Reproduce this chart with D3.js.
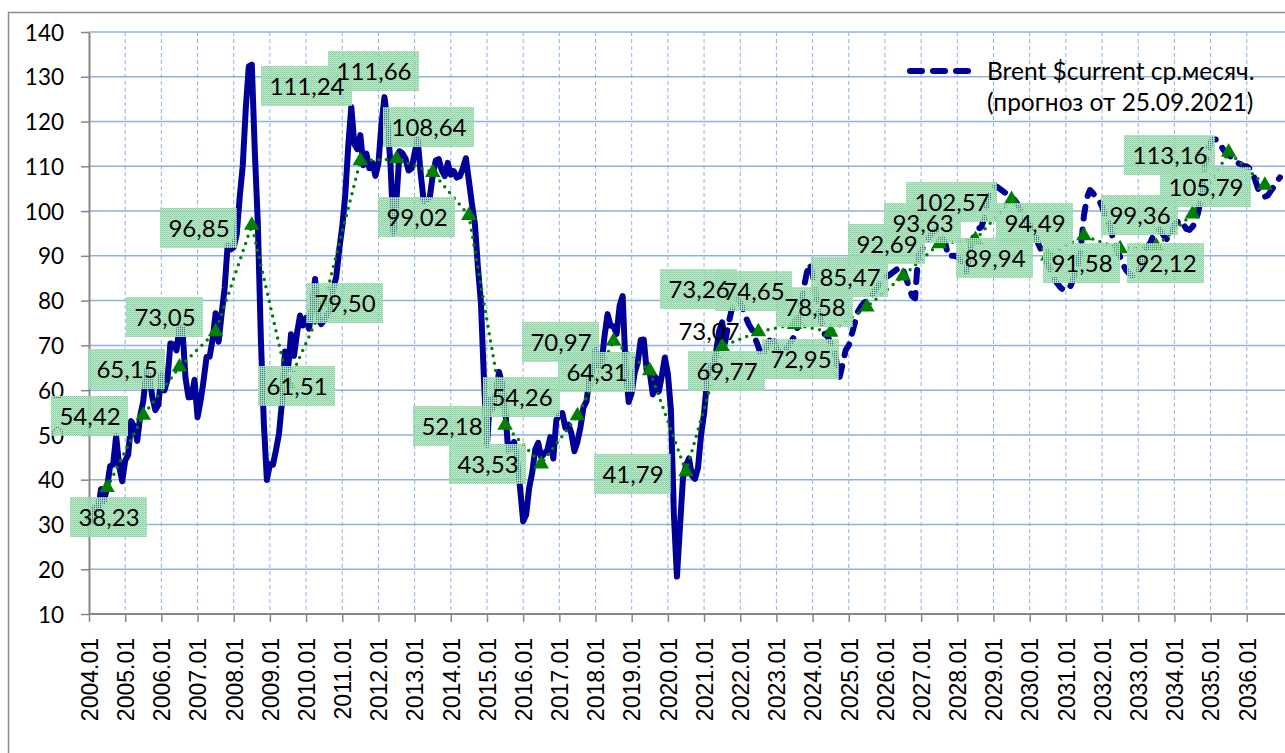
<!DOCTYPE html>
<html>
<head>
<meta charset="utf-8">
<script src="https://cdn.jsdelivr.net/npm/d3@7"></script>
<style>
body { margin: 0; background: #fff; }
svg { display: block; }
</style>
</head>
<body>
<svg id="chart" width="1285" height="753"></svg>
<script>
// Brent monthly average, $/bbl, fact 2004.01 - 2021.08
var brentFact = [
  31.18, 30.87, 33.80, 33.36, 37.92, 35.19, 38.37, 43.03, 43.38, 49.77, 43.05, 39.65,
  44.28, 45.56, 53.08, 51.86, 48.67, 54.31, 57.58, 64.09, 62.98, 58.52, 55.53, 56.75,
  63.57, 59.92, 62.25, 70.44, 70.19, 68.86, 73.90, 73.61, 62.77, 58.38, 58.48, 62.31,
  53.96, 57.58, 62.14, 67.40, 67.48, 71.32, 77.20, 70.80, 77.13, 82.86, 92.53, 91.45,
  91.92, 94.82, 103.28, 110.19, 122.94, 132.32, 132.72, 113.24, 97.23, 71.58, 52.45, 39.95,
  43.44, 43.32, 46.54, 50.18, 57.30, 68.61, 64.44, 72.51, 67.65, 72.77, 76.66, 74.46,
  76.17, 73.75, 78.83, 84.82, 75.95, 74.76, 75.58, 77.04, 77.84, 82.67, 85.28, 91.45,
  96.52, 103.72, 114.64, 123.26, 114.99, 113.83, 116.97, 110.22, 112.83, 109.55, 110.77, 107.87,
  110.69, 119.33, 125.45, 119.75, 110.34, 95.16, 102.62, 113.36, 112.86, 111.71, 109.06, 109.49,
  112.96, 116.05, 108.47, 102.25, 102.56, 102.92, 107.93, 111.28, 111.60, 109.08, 107.79, 110.76,
  108.12, 108.90, 107.48, 107.76, 109.54, 111.80, 106.77, 101.61, 97.09, 87.43, 79.44, 62.34,
  47.76, 58.10, 55.89, 59.52, 64.08, 61.48, 56.56, 46.52, 47.62, 48.43, 44.27, 38.01,
  30.70, 32.18, 38.21, 41.58, 46.74, 48.25, 44.95, 45.84, 46.57, 49.52, 44.73, 53.31,
  54.58, 54.87, 51.59, 52.31, 50.33, 46.37, 48.48, 51.70, 56.15, 57.51, 62.71, 64.37,
  69.08, 65.32, 66.02, 72.11, 76.98, 74.41, 74.25, 72.53, 78.89, 81.03, 64.75, 57.36,
  59.41, 63.96, 66.14, 71.23, 71.32, 64.22, 63.92, 59.04, 62.83, 59.71, 63.21, 67.31,
  63.65, 55.66, 32.01, 18.38, 29.38, 40.27, 43.24, 44.74, 40.91, 40.19, 42.69, 49.99,
  54.77, 62.28, 65.41, 64.81, 68.53, 73.16, 75.17, 70.75
];

// forecast of 25.09.2021, 2021.09 - 2036.12
var brentForecast = [
  74.5, 77.5, 79.5, 80.5,
  79.5, 78, 76, 74.5, 73.4, 71.5, 69.7, 67.5, 68.5, 70, 71.5, 72,
  69.5, 68.5, 68, 69, 70, 71, 72, 74, 78, 82.5, 86, 88.3,
  86, 82, 78, 75, 72.5, 72, 70.5, 70, 66, 63, 66, 69,
  70, 72.5, 75, 77.5, 78.6, 79.5, 80, 80.5, 81.5, 82.5, 83.5, 84.5,
  85, 85.5, 86, 86.5, 87, 87.6, 87, 85, 83, 81, 80.5, 90,
  91, 92.5, 93.5, 94.5, 95.3, 95.8, 95, 94, 92.9, 89.8, 90, 90,
  89.8, 89, 88, 86.5, 90, 93.5, 95, 96, 96.5, 98.5, 102.5, 104.5,
  105.4, 105.5, 105, 104.5, 104, 103.5, 103, 102.5, 101.5, 100, 98.7, 97,
  97, 95.5, 94.3, 92.5, 91, 89.8, 88, 86.5, 85, 84, 83.1, 82.5,
  82.4, 82.5, 84, 86, 88, 92, 99, 103, 104.7, 104, 103, 102.5,
  101, 99, 98, 95.5, 93, 91, 89.8, 88, 86.8, 86, 85.5, 85.3,
  86.5, 88.3, 90.5, 92, 92.9, 94.5, 95.5, 95.8, 95, 94, 93.5, 95,
  97, 97.5, 98, 97, 96, 95.8, 96.5, 97.5, 100, 104, 110, 113,
  115.5, 116, 116, 115, 114, 113, 112.5, 112, 111.5, 110.7, 110.5, 110,
  110, 109.5, 108.5, 106.5, 104.5, 103.5, 103.2, 103.5, 104.5, 105.5, 106.6, 107.5
];

var years = d3.range(2004, 2037);
var yearAvg = [38.23, 54.42, 65.15, 73.05, 96.85, 61.51, 79.50, 111.24, 111.66, 108.64,
  99.02, 52.18, 43.53, 54.26, 70.97, 64.31, 41.79, 69.77, 73.07, 74.65, 72.95, 78.58,
  85.47, 92.69, 93.63, 102.57, 89.94, 94.49, 91.58, 92.12, 99.36, 113.16, 105.79];
var extraLabel = { year: 2021, value: 73.26 };
var yTicks = d3.range(10, 141, 10);
var xTickLabels = years.map(function(y) { return y + ".01"; });
var legendLines = ["Brent $current ср.месяч.", "(прогноз от 25.09.2021)"];

// label placement offsets from the point, px
var labelShift = [[2,29],[-53,1],[-52,2],[-51,-15],[-53,3],[9,3],[21,0],[-53,-75],[-23,-88],[-4,-45],
  [-52,2],[-53,1],[-53,0],[-55,-19],[-53,1],[-53,1],[-53,2],[5,25],[-49,-1],[-41,-34],[-30,27],
  [-52,0],[-53,1],[-52,0],[-52,-17],[-60,2],[-53,2],[-49,-13],[-38,14],[10,17],[-52,1],[-59,3],[-59,2]];
var extraShift = [-23, -42];
var noBox = [2022];

var svg = d3.select("#chart");
var navy = "#000099", grid = "#8db3e2", axisGray = "#868686", green = "#008000";

var x = d3.scaleLinear().domain([0, 396]).range([89, 89 + 396 * 3.015]);
var y = d3.scaleLinear().domain([10, 140]).range([614, 32]);

var defs = svg.append("defs");
var pat = defs.append("pattern").attr("id", "grn")
  .attr("width", 2).attr("height", 2).attr("patternUnits", "userSpaceOnUse");
pat.append("rect").attr("x", 0).attr("y", 0).attr("width", 1).attr("height", 1).attr("fill", "#86d19f");
pat.append("rect").attr("x", 1).attr("y", 0).attr("width", 1).attr("height", 1).attr("fill", "#b0e4c1");
pat.append("rect").attr("x", 1).attr("y", 1).attr("width", 1).attr("height", 1).attr("fill", "#94d8aa");
pat.append("rect").attr("x", 0).attr("y", 1).attr("width", 1).attr("height", 1).attr("fill", "#a5dfb8")
  .attr("fill-opacity", 0.5);

// outer chart border
svg.append("path").attr("d", "M8.5,753V12.5H1285")
  .attr("fill", "none").attr("stroke", "#8c8c8c").attr("stroke-width", 1.5);

// grid
svg.append("g").selectAll("line").data(yTicks.slice(1)).enter().append("line")
  .attr("x1", 89).attr("x2", 1285)
  .attr("y1", function(d) { return y(d); }).attr("y2", function(d) { return y(d); })
  .attr("stroke", grid).attr("stroke-width", 1.5);

var yearIdx = d3.range(0, 396, 12);
svg.append("g").selectAll("line").data(yearIdx.slice(1)).enter().append("line")
  .attr("x1", function(d) { return x(d); }).attr("x2", function(d) { return x(d); })
  .attr("y1", 32).attr("y2", 614)
  .attr("stroke", grid).attr("stroke-width", 1).attr("stroke-dasharray", "4,3");

// axes
var yAxis = svg.append("g").attr("transform", "translate(89,0)")
  .call(d3.axisLeft(y).tickValues(yTicks).tickSize(8).tickSizeOuter(0).tickPadding(17));
yAxis.select(".domain").attr("stroke", axisGray).attr("stroke-width", 2);
yAxis.selectAll(".tick line").attr("stroke", axisGray).attr("stroke-width", 1.5);
yAxis.selectAll("text").attr("font-family", "Lato, sans-serif").attr("font-size", 22.5)
  .attr("fill", "#000").attr("dy", "0.36em");

var xAxis = svg.append("g").attr("transform", "translate(0,614)")
  .call(d3.axisBottom(x).tickValues(yearIdx).tickSize(8).tickSizeOuter(0)
    .tickFormat(function(d, i) { return xTickLabels[i]; }));
xAxis.select(".domain").attr("stroke", axisGray).attr("stroke-width", 2)
  .attr("d", "M89,0H1285");
xAxis.selectAll(".tick line").attr("stroke", axisGray).attr("stroke-width", 1.5);
xAxis.selectAll("text")
  .attr("font-family", "'Liberation Sans', Arial, sans-serif").attr("font-size", 23)
  .attr("fill", "#000")
  .attr("transform", "rotate(-90)")
  .attr("text-anchor", "end")
  .attr("x", -24).attr("y", 0).attr("dy", "0.36em");

// price lines
var factPts = brentFact.map(function(v, i) { return [i, v]; });
var lastFact = factPts.length - 1;
var fcPts = [[lastFact, brentFact[lastFact]]].concat(
  brentForecast.map(function(v, i) { return [lastFact + 1 + i, v]; }));

var line = d3.line().x(function(d) { return x(d[0]); }).y(function(d) { return y(d[1]); });

svg.append("path").datum(factPts).attr("d", line)
  .attr("fill", "none").attr("stroke", navy).attr("stroke-width", 6)
  .attr("stroke-linejoin", "round").attr("stroke-linecap", "round");

svg.append("path").datum(fcPts).attr("d", line)
  .attr("fill", "none").attr("stroke", navy).attr("stroke-width", 6)
  .attr("stroke-linejoin", "round").attr("stroke-linecap", "round")
  .attr("stroke-dasharray", "12,11");

// yearly averages
var avgPts = years.map(function(yr, k) { return [(yr - 2004) * 12 + 6, yearAvg[k], yr]; });

svg.append("path").datum(avgPts).attr("d", line)
  .attr("fill", "none").attr("stroke", green).attr("stroke-width", 3.5)
  .attr("stroke-dasharray", "0,7.5").attr("stroke-linecap", "round");

svg.append("g").selectAll("path").data(avgPts).enter().append("path")
  .attr("d", d3.symbol(d3.symbolTriangle, 105))
  .attr("transform", function(d) { return "translate(" + x(d[0]) + "," + y(d[1]) + ")"; })
  .attr("fill", green);

// data labels: all boxes first, then all texts on top
var labelData = avgPts.map(function(d, k) {
  return { i: d[0], v: d[1], yr: d[2], dx: labelShift[k][0], dy: labelShift[k][1] };
});
labelData.push({ i: (extraLabel.year - 2004) * 12 + 6, v: extraLabel.value, yr: 0,
  dx: extraShift[0], dy: extraShift[1] });
labelData.forEach(function(d) {
  d.cx = Math.round(x(d.i) + d.dx);
  d.cy = Math.round(y(d.v) + d.dy);
  d.txt = d3.format(".2f")(d.v).replace(".", ",");
});

var boxLayer = svg.append("g");
var textLayer = svg.append("g");

textLayer.selectAll("text").data(labelData).enter().append("text")
  .attr("x", function(d) { return d.cx; }).attr("y", function(d) { return d.cy; })
  .attr("text-anchor", "middle").attr("dy", "0.36em")
  .attr("font-family", "Lato, sans-serif").attr("font-size", 24).attr("fill", "#000")
  .text(function(d) { return d.txt; })
  .each(function(d) { d.bw = Math.round(this.getComputedTextLength() + 16); });

boxLayer.selectAll("rect").data(labelData.filter(function(d) { return noBox.indexOf(d.yr) < 0; }))
  .enter().append("rect")
  .attr("x", function(d) { return d.cx - Math.round(d.bw / 2); })
  .attr("y", function(d) { return d.cy - 20; })
  .attr("width", function(d) { return d.bw; }).attr("height", 40)
  .attr("fill", "url(#grn)");

// legend
svg.append("line").attr("x1", 910).attr("x2", 971).attr("y1", 71).attr("y2", 71)
  .attr("stroke", navy).attr("stroke-width", 6).attr("stroke-linecap", "round")
  .attr("stroke-dasharray", "12,11");
svg.append("g").selectAll("text").data(legendLines).enter().append("text")
  .attr("x", 987).attr("y", function(d, i) { return 80 + i * 31; })
  .attr("font-family", "Lato, sans-serif").attr("font-size", 24.5).attr("fill", "#000")
  .text(function(d) { return d; });
</script>
</body>
</html>
